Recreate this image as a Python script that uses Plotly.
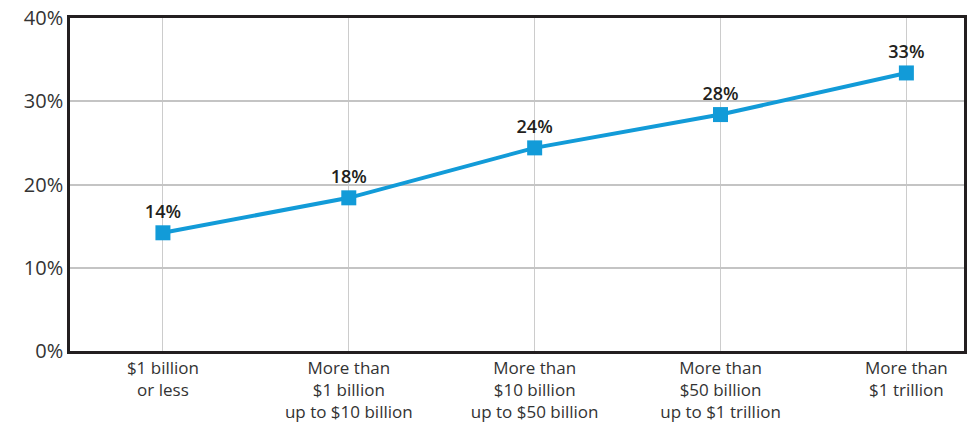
import plotly.graph_objects as go

categories = [
    "$1 billion<br>or less",
    "More than<br>$1 billion<br>up to $10 billion",
    "More than<br>$10 billion<br>up to $50 billion",
    "More than<br>$50 billion<br>up to $1 trillion",
    "More than<br>$1 trillion",
]
values = [14.2, 18.4, 24.4, 28.4, 33.4]
value_labels = ["14%", "18%", "24%", "28%", "33%"]
y_ticks = [0, 10, 20, 30, 40]
y_tick_labels = ["0%", "10%", "20%", "30%", "40%"]

x_idx = list(range(len(categories)))

fig = go.Figure()
fig.add_trace(go.Scatter(
    x=x_idx, y=values,
    mode="lines+markers+text",
    line=dict(color="#129bd8", width=4),
    marker=dict(symbol="square", size=15, color="#129bd8"),
    text=value_labels,
    textposition="top center",
    textfont=dict(family="Open Sans", size=18, color="#231f20", weight=600),
    cliponaxis=False,
    showlegend=False,
))

fig.update_layout(
    width=971, height=431,
    margin=dict(l=70, r=4, t=16, b=80),
    paper_bgcolor="white", plot_bgcolor="white",
    font=dict(family="Open Sans", color="#333333"),
)
fig.update_xaxes(
    range=[-0.5, 4.31],
    tickmode="array", tickvals=x_idx, ticktext=categories,
    tickfont=dict(size=17, color="#333333"),
    showgrid=True, gridcolor="#cccccc", gridwidth=1.2,
    showline=True, linecolor="#231f20", linewidth=2.5, mirror=True,
    ticks="", zeroline=False,
)
fig.update_yaxes(
    range=[0, 40],
    tickmode="array", tickvals=y_ticks, ticktext=y_tick_labels,
    tickfont=dict(size=20, color="#333333"),
    showgrid=True, gridcolor="#c4c4c4", gridwidth=2,
    showline=True, linecolor="#231f20", linewidth=2.5, mirror=True,
    ticks="", ticklen=0, zeroline=False,
)

fig.write_html(
    "out.html",
    config={"displayModeBar": False},
    post_script="document.body.style.margin='0';document.body.style.overflow='hidden';",
)
